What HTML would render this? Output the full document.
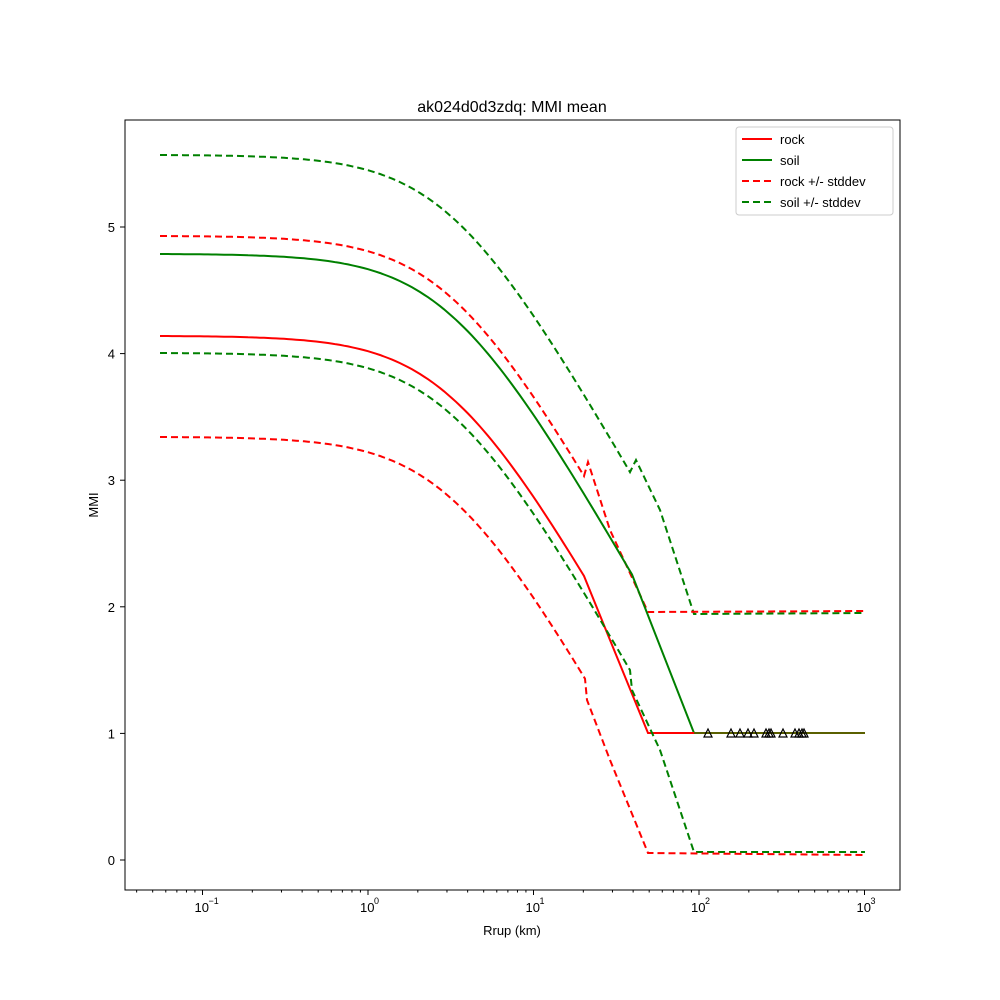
<!DOCTYPE html>
<html><head><meta charset="utf-8"><style>body{margin:0;background:#fff}svg{display:block}text{font-family:"Liberation Sans","DejaVu Sans",sans-serif;font-size:13px;fill:#000}</style></head>
<body>
<svg id="s" width="1000" height="1000" xmlns="http://www.w3.org/2000/svg">
<rect width="1000" height="1000" fill="#fff"/>
<g id="cv" fill="none" stroke-width="2"></g>
<g id="tri" fill="none" stroke="#000" stroke-width="1.2"></g>
<rect x="125" y="120" width="775" height="770" fill="none" stroke="#000" stroke-width="1"/>
<g id="tk" stroke="#000" stroke-width="1"></g>
<g id="lb"></g>
<text x="512" y="112" text-anchor="middle" style="font-size:16px">ak024d0d3zdq: MMI mean</text>
<text x="512" y="935" text-anchor="middle">Rrup (km)</text>
<text x="98" y="505" text-anchor="middle" transform="rotate(-90 98 505)">MMI</text>
<rect x="736" y="127" width="157" height="88" rx="3" fill="#fff" stroke="#ccc"/>
<g stroke-width="2">
<line x1="742" y1="139" x2="772" y2="139" stroke="red"/>
<line x1="742" y1="160" x2="772" y2="160" stroke="green"/>
<line x1="742" y1="181" x2="772" y2="181" stroke="red" stroke-dasharray="7,4"/>
<line x1="742" y1="202" x2="772" y2="202" stroke="green" stroke-dasharray="7,4"/>
</g>
<text x="780" y="144">rock</text><text x="780" y="165">soil</text>
<text x="780" y="186">rock +/- stddev</text><text x="780" y="207">soil +/- stddev</text>
</svg>
<script>
var ns="http://www.w3.org/2000/svg";
function el(p,t,a,txt){var e=document.createElementNS(ns,t);for(var k in a)e.setAttribute(k,a[k]);if(txt!=null)e.textContent=txt;document.getElementById(p).appendChild(e);return e;}
var W=50,XC=450,SL=1.75;
function g(x){return SL*W*Math.log(1+Math.exp((x-XC)/W));}
function f(x){return g(x)-g(160);}
function path(y0,xe,tail){var d="M160,"+y0;for(var x=164;x<xe;x+=4)d+=" L"+x+","+(y0+f(x)).toFixed(1);d+=" L"+xe+","+(y0+f(xe)).toFixed(1);
 tail.forEach(function(q){d+=" L"+q[0]+","+q[1];});return d;}
var S=[
 ["green",1,155,630,[[636,460],[660,510],[694,614],[865,613]]],
 ["red",1,236,584,[[588,462],[610,530],[648,612],[865,611]]],
 ["green",0,254,632,[[694,733],[865,733]]],
 ["red",0,336,584,[[610,640],[648,733],[694,733]]],
 ["green",1,353,630,[[632,690],[660,750],[694,852],[865,852]]],
 ["red",1,437,585,[[587,700],[610,760],[648,853],[865,855]]]
];
S.forEach(function(s){var a={d:path(s[2],s[3],s[4]),stroke:s[0]};if(s[1])a["stroke-dasharray"]="7,4";el("cv","path",a);});
el("cv","line",{x1:694,y1:733,x2:865,y2:733,stroke:"#5a6000"});
[708,731,740,748,754,766,769,771,783,795,799,802,804].forEach(function(x){el("tri","polygon",{points:(x-4)+",737 "+(x+4)+",737 "+x+",729"});});
function X(d){return 368+165.5*Math.log10(d);}
for(var e=-2;e<=3;e++){for(var m=1;m<10;m++){var x=X(m*Math.pow(10,e));if(x<125||x>900)continue;
 if(m==1){el("tk","line",{x1:x,y1:890,x2:x,y2:895});el("lb","text",{x:x-8,y:912},"10");el("lb","text",{x:x+6,y:904,style:"font-size:9px"},e==-1?"\u22121":String(e));}
 else el("tk","line",{x1:x,y1:890,x2:x,y2:892.5});}}
for(var v=0;v<=5;v++){var y=860-126.6*v;el("tk","line",{x1:120,y1:y,x2:125,y2:y});el("lb","text",{x:115,y:y+5,"text-anchor":"end"},String(v));}
</script>
</body></html>
